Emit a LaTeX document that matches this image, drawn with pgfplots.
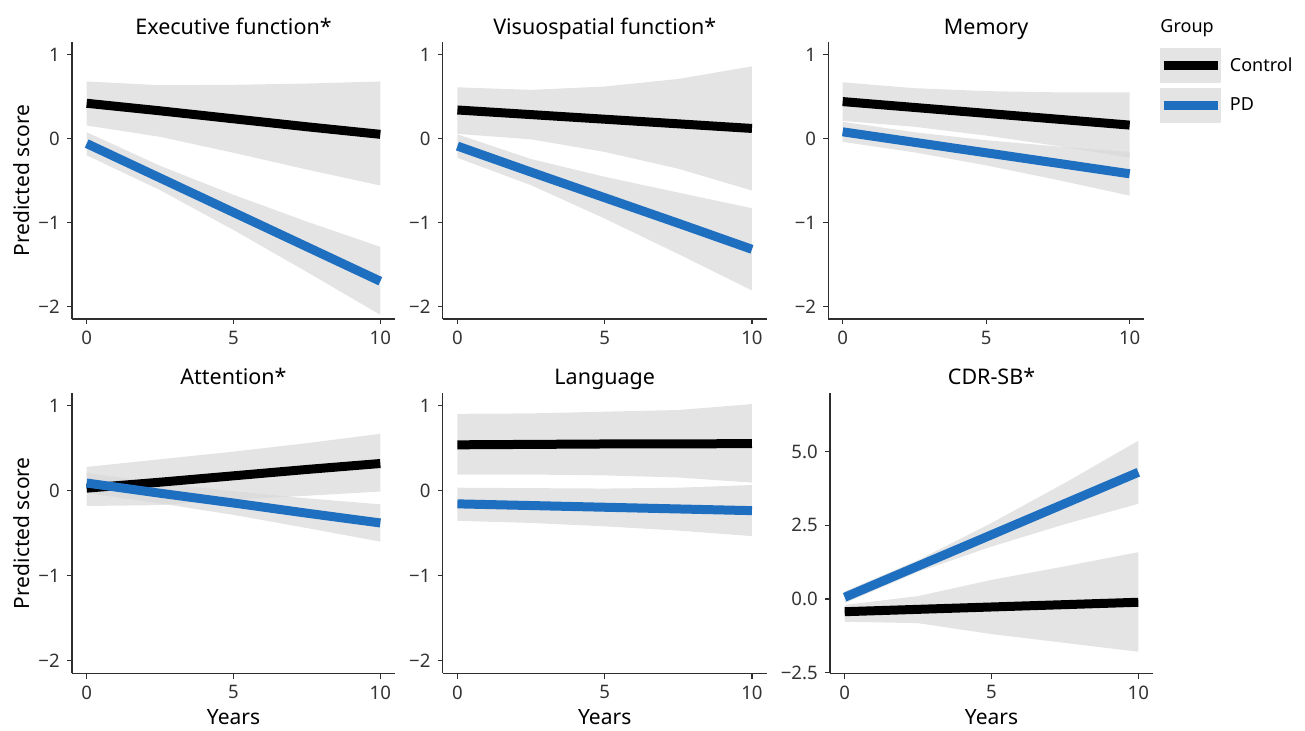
\documentclass[border=0pt]{standalone}
\usepackage{pgfplots}
\pgfplotsset{compat=1.18}
\usepackage{pgfplotstable}
\usepgfplotslibrary{fillbetween}
\usepackage{fontspec}
\setmainfont{Noto Sans}
\definecolor{pdblue}{HTML}{1E6FC0}
\definecolor{axgray}{HTML}{2E2E2E}
\definecolor{tkgray}{HTML}{333333}
\definecolor{ribgray}{gray}{0.85}
\definecolor{leggray}{HTML}{E4E4E4}

% x  control fit/low/high   PD fit/low/high
\pgfplotstableread{
x cfit clo chi pfit plo phi
0 0.42 0.155 0.68 -0.06 -0.20 0.075
2.5 0.33 0.02 0.635 -0.47 -0.615 -0.325
5 0.235 -0.17 0.64 -0.88 -1.09 -0.67
7.5 0.14 -0.37 0.655 -1.29 -1.59 -0.99
10 0.05 -0.56 0.68 -1.70 -2.10 -1.29
}\exe
\pgfplotstableread{
x cfit clo chi pfit plo phi
0 0.34 0.055 0.61 -0.09 -0.23 0.05
2.5 0.285 -0.01 0.58 -0.40 -0.556 -0.244
5 0.23 -0.16 0.62 -0.705 -0.954 -0.456
7.5 0.175 -0.36 0.71 -1.01 -1.376 -0.644
10 0.12 -0.62 0.86 -1.32 -1.81 -0.83
}\vis
\pgfplotstableread{
x cfit clo chi pfit plo phi
0 0.44 0.21 0.67 0.08 -0.04 0.20
2.5 0.37 0.14 0.60 -0.045 -0.165 0.075
5 0.30 0.035 0.565 -0.17 -0.32 -0.02
7.5 0.23 -0.09 0.55 -0.295 -0.495 -0.095
10 0.16 -0.23 0.55 -0.42 -0.68 -0.16
}\mem
\pgfplotstableread{
x cfit clo chi pfit plo phi
0 0.03 -0.18 0.28 0.09 -0.03 0.21
2.5 0.10 -0.17 0.37 -0.03 -0.15 0.09
5 0.175 -0.105 0.46 -0.145 -0.285 -0.005
7.5 0.25 -0.06 0.56 -0.265 -0.44 -0.09
10 0.32 -0.01 0.67 -0.38 -0.60 -0.16
}\att
\pgfplotstableread{
x cfit clo chi pfit plo phi
0 0.54 0.19 0.905 -0.155 -0.355 0.035
2.5 0.545 0.19 0.91 -0.175 -0.38 0.03
5 0.55 0.18 0.93 -0.195 -0.42 0.025
7.5 0.55 0.155 0.95 -0.215 -0.47 0.035
10 0.555 0.095 1.02 -0.235 -0.535 0.067
}\lang
\pgfplotstableread{
x cfit clo chi pfit plo phi
0 -0.43 -0.77 -0.20 0.06 -0.14 0.26
2.5 -0.35 -0.82 0.10 1.12 0.92 1.32
5 -0.27 -1.19 0.65 2.18 1.78 2.58
7.5 -0.19 -1.49 1.11 3.24 2.54 3.94
10 -0.11 -1.79 1.59 4.30 3.23 5.37
}\cdr

\pgfplotsset{
  panel/.style={
    scale only axis, anchor=south west, clip=false,
    xmin=-0.5, xmax=10.5, xtick={0,5,10}, xticklabels={0,5,10},
    axis x line*=bottom, axis y line*=left,
    axis line style={line width=0.6pt, color=axgray, -},
    tick style={line width=0.6pt, color=axgray},
    tick align=outside, major tick length=2.6pt,
    tick label style={font=\fontsize{9.3}{11}\selectfont, text=tkgray},
    title style={font=\fontsize{10.75}{13}\selectfont, at={(0.5,1)}, anchor=base},
    label style={font=\fontsize{10.5}{12}\selectfont},
  },
  toprow/.style={title style={yshift=-2.5pt}},
  botrow/.style={title style={yshift=-1.5pt}},
  zscale/.style={ymin=-2.15, ymax=1.15, ytick={-2,-1,0,1}, yticklabels={−2,−1,0,1}},
  ylab/.style={ylabel={Predicted score}, ylabel style={at={(axis description cs:-0.133,0.5)}, anchor=base}},
  xlab/.style={xlabel={Years}, xlabel style={at={(axis description cs:0.5,-0.181)}, anchor=base}},
  ctrl/.style={black, line width=4.5pt, line cap=butt},
  pd/.style={pdblue, line width=4.5pt, line cap=butt},
  rib/.style={fill=ribgray, fill opacity=0.7, draw=none},
}

\newcommand\panelplots[1]{%
  \addplot[draw=none, name path=ch, forget plot] table[x=x,y=chi]{#1};
  \addplot[draw=none, name path=cl, forget plot] table[x=x,y=clo]{#1};
  \addplot[rib, forget plot] fill between[of=ch and cl];
  \addplot[draw=none, name path=ph, forget plot] table[x=x,y=phi]{#1};
  \addplot[draw=none, name path=pl, forget plot] table[x=x,y=plo]{#1};
  \addplot[rib, forget plot] fill between[of=ph and pl];
  \addplot[ctrl] table[x=x,y=cfit]{#1};
  \addplot[pd] table[x=x,y=pfit]{#1};
}

\begin{document}
\begin{tikzpicture}
\path (0,0) rectangle (652.5pt,364pt);

\begin{axis}[panel, toprow, zscale, ylab, at={(36pt,204.5pt)}, width=161.5pt, height=138.5pt,
  title={Executive function*}]
\panelplots{\exe}
\end{axis}

\begin{axis}[panel, toprow, zscale, at={(221.35pt,204.5pt)}, width=162pt, height=138.5pt,
  title={Visuospatial function*}]
\panelplots{\vis}
\end{axis}

\begin{axis}[panel, toprow, zscale, at={(414.15pt,204.5pt)}, width=157.85pt, height=138.5pt,
  title={Memory},
  legend style={at={(axis description cs:1.0475,0.9794)}, anchor=north west,
    draw=none, fill=none, inner sep=0pt, outer sep=0pt, row sep=2.5pt,
    font=\fontsize{9}{11}\selectfont, nodes={inner sep=0pt}},
  legend cell align=left,
  legend image code/.code={%
    \path[fill=leggray, draw=none, line width=0pt] (0pt,-8.45pt) rectangle (30.5pt,9.05pt);
    \draw[#1] (1.8pt,0.3pt) -- (28.8pt,0.3pt);
    \path[draw=none] (35pt,0pt);}]
\panelplots{\mem}
\legend{Control,PD}
\node[anchor=base west, inner sep=0pt, font=\fontsize{9}{11}\selectfont] at (axis description cs:1.0507,1.0325) {Group};
\end{axis}

\begin{axis}[panel, botrow, zscale, ylab, xlab, at={(36pt,27.35pt)}, width=161.5pt, height=140.15pt,
  title={Attention*}]
\panelplots{\att}
\end{axis}

\begin{axis}[panel, botrow, zscale, xlab, at={(221.35pt,27.35pt)}, width=162pt, height=140.15pt,
  title={Language}]
\panelplots{\lang}
\end{axis}

\begin{axis}[panel, botrow, xlab, at={(415pt,27.35pt)}, width=161.5pt, height=140.15pt,
  ymin=-2.52, ymax=6.99, ytick={-2.5,0,2.5,5}, yticklabels={−2.5,0.0,2.5,5.0},
  title={CDR-SB*}]
\panelplots{\cdr}
\end{axis}

\end{tikzpicture}
\end{document}
